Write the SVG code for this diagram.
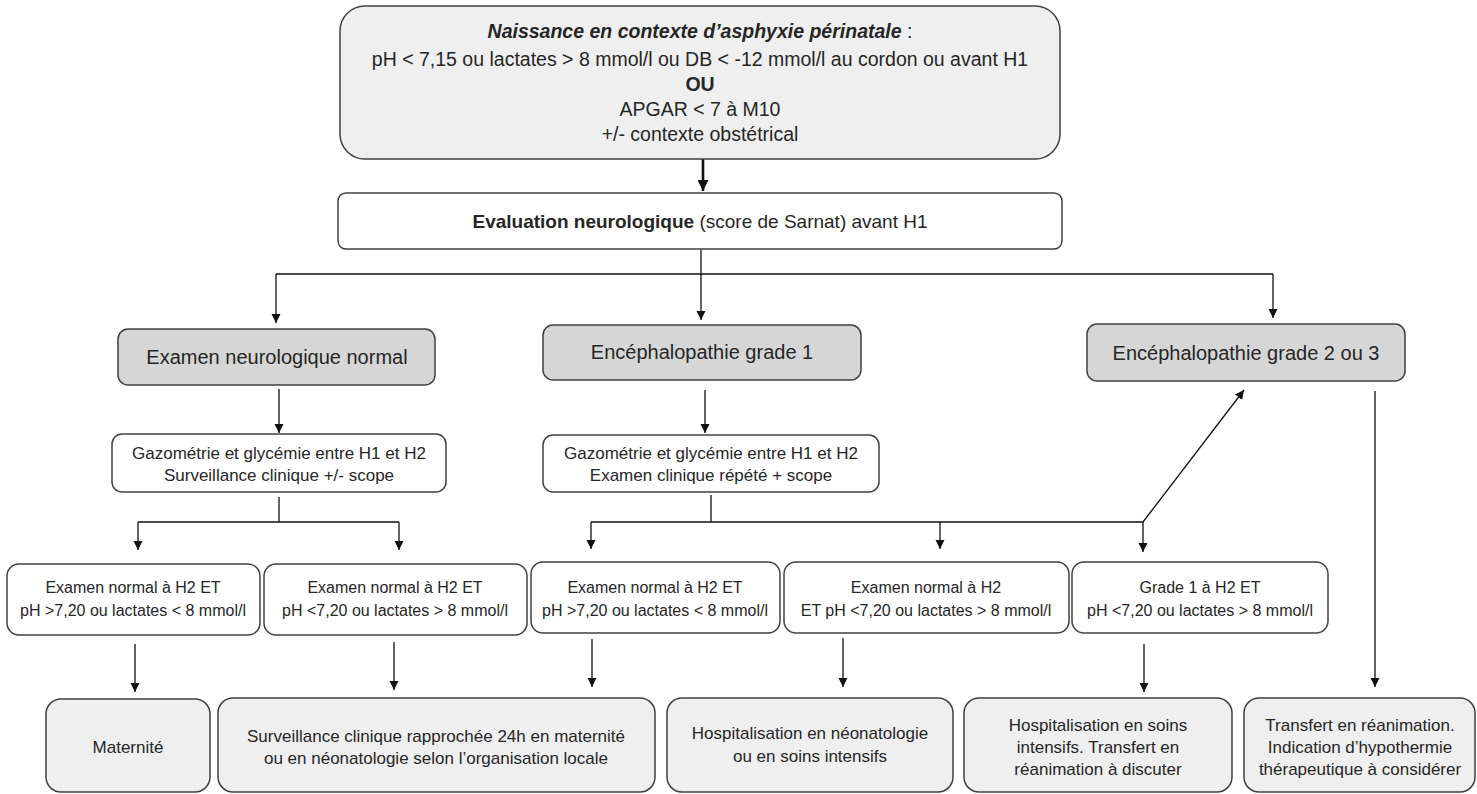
<svg xmlns="http://www.w3.org/2000/svg" width="1477" height="794" viewBox="0 0 1477 794">
<style>
.box{stroke:#404040;stroke-width:1.5}
.dark{fill:#d6d6d6}
.light{fill:#efefef}
.white{fill:#ffffff}
text{font-family:"Liberation Sans",Arial,sans-serif;fill:#262626;text-anchor:middle;dominant-baseline:central}
.t-top{font-size:19.5px}
.t-eval{font-size:19px}
.t-l2{font-size:20px}
.t-gaz{font-size:17px}
.t-l4{font-size:16px}
.t-l5{font-size:17px}
.c{stroke:#111;stroke-width:1.3;fill:none}
.thick{stroke-width:2.6}
</style>
<defs>
<marker id="ah" viewBox="0 0 10 10" refX="10" refY="5" markerWidth="9" markerHeight="10" markerUnits="userSpaceOnUse" orient="auto">
<path d="M0,0 L10,5 L0,10 z" fill="#111"/>
</marker>
<marker id="ahb" viewBox="0 0 10 10" refX="10" refY="5" markerWidth="11" markerHeight="11" markerUnits="userSpaceOnUse" orient="auto">
<path d="M0,0 L10,5 L0,10 z" fill="#111"/>
</marker>
</defs>

<g id="connectors">
<line class="c thick" x1="703" y1="159" x2="703" y2="191" marker-end="url(#ahb)"/>
<line class="c" x1="701" y1="250" x2="701" y2="274"/>
<line class="c" x1="276" y1="274" x2="1273" y2="274"/>
<line class="c" x1="276" y1="274" x2="276" y2="323" marker-end="url(#ah)"/>
<line class="c" x1="701" y1="274" x2="701" y2="320" marker-end="url(#ah)"/>
<line class="c" x1="1273" y1="274" x2="1273" y2="318" marker-end="url(#ah)"/>
<line class="c" x1="279" y1="389" x2="279" y2="433" marker-end="url(#ah)"/>
<line class="c" x1="705" y1="390" x2="705" y2="433" marker-end="url(#ah)"/>
<line class="c" x1="279" y1="497" x2="279" y2="522"/>
<line class="c" x1="138" y1="522" x2="399" y2="522"/>
<line class="c" x1="138" y1="522" x2="138" y2="550" marker-end="url(#ah)"/>
<line class="c" x1="399" y1="522" x2="399" y2="550" marker-end="url(#ah)"/>
<line class="c" x1="711" y1="495" x2="711" y2="522"/>
<line class="c" x1="591" y1="522" x2="1143" y2="522"/>
<line class="c" x1="591" y1="522" x2="591" y2="549" marker-end="url(#ah)"/>
<line class="c" x1="940" y1="522" x2="940" y2="549" marker-end="url(#ah)"/>
<line class="c" x1="1143" y1="522" x2="1143" y2="552" marker-end="url(#ah)"/>
<line class="c" x1="1143" y1="522" x2="1244" y2="390" marker-end="url(#ah)"/>
<line class="c" x1="1375" y1="391" x2="1375" y2="687" marker-end="url(#ah)"/>
<line class="c" x1="135" y1="644" x2="135" y2="692" marker-end="url(#ah)"/>
<line class="c" x1="394" y1="642" x2="394" y2="690" marker-end="url(#ah)"/>
<line class="c" x1="592" y1="639" x2="592" y2="687" marker-end="url(#ah)"/>
<line class="c" x1="843" y1="638" x2="843" y2="687" marker-end="url(#ah)"/>
<line class="c" x1="1144" y1="644" x2="1144" y2="692" marker-end="url(#ah)"/>
</g>

<g id="n-naissance">
<rect class="box light" x="340" y="6" width="720" height="153" rx="25"/>
<text class="t-top" x="700" y="31"><tspan font-weight="bold" font-style="italic">Naissance en contexte d’asphyxie périnatale</tspan> :</text>
<text class="t-top" x="700" y="59">pH &lt; 7,15 ou lactates &gt; 8 mmol/l ou DB &lt; -12 mmol/l au cordon ou avant H1</text>
<text class="t-top" x="700" y="84" font-weight="bold">OU</text>
<text class="t-top" x="700" y="109">APGAR &lt; 7 à M10</text>
<text class="t-top" x="700" y="134">+/- contexte obstétrical</text>
</g>

<g id="n-evaluation">
<rect class="box white" x="338" y="193" width="724" height="56" rx="8"/>
<text class="t-eval" x="700" y="221"><tspan font-weight="bold">Evaluation neurologique</tspan> (score de Sarnat) avant H1</text>
</g>

<g id="n-normal">
<rect class="box dark" x="118" y="329" width="317" height="56" rx="10"/>
<text class="t-l2" x="277" y="357">Examen neurologique normal</text>
</g>
<g id="n-grade1">
<rect class="box dark" x="543" y="325" width="318" height="55" rx="10"/>
<text class="t-l2" x="702" y="352">Encéphalopathie grade 1</text>
</g>
<g id="n-grade23">
<rect class="box dark" x="1087" y="324" width="318" height="57" rx="10"/>
<text class="t-l2" x="1246" y="353">Encéphalopathie grade 2 ou 3</text>
</g>

<g id="n-gazo1">
<rect class="box white" x="112" y="434" width="334" height="58" rx="10"/>
<text class="t-gaz" x="279" y="453">Gazométrie et glycémie entre H1 et H2</text>
<text class="t-gaz" x="279" y="475">Surveillance clinique +/- scope</text>
</g>
<g id="n-gazo2">
<rect class="box white" x="543" y="435" width="336" height="57" rx="10"/>
<text class="t-gaz" x="711" y="453">Gazométrie et glycémie entre H1 et H2</text>
<text class="t-gaz" x="711" y="475">Examen clinique répété + scope</text>
</g>

<g id="n-b1">
<rect class="box white" x="7" y="564" width="253" height="71" rx="12"/>
<text class="t-l4" x="133" y="587">Examen normal à H2 ET</text>
<text class="t-l4" x="133" y="610">pH &gt;7,20 ou lactates &lt; 8 mmol/l</text>
</g>
<g id="n-b2">
<rect class="box white" x="264" y="564" width="263" height="71" rx="12"/>
<text class="t-l4" x="395" y="587">Examen normal à H2 ET</text>
<text class="t-l4" x="395" y="610">pH &lt;7,20 ou lactates &gt; 8 mmol/l</text>
</g>
<g id="n-b3">
<rect class="box white" x="531" y="562" width="249" height="71" rx="12"/>
<text class="t-l4" x="655" y="587">Examen normal à H2 ET</text>
<text class="t-l4" x="655" y="610">pH &gt;7,20 ou lactates &lt; 8 mmol/l</text>
</g>
<g id="n-b4">
<rect class="box white" x="784" y="562" width="285" height="71" rx="12"/>
<text class="t-l4" x="926" y="587">Examen normal à H2</text>
<text class="t-l4" x="926" y="610">ET pH &lt;7,20 ou lactates &gt; 8 mmol/l</text>
</g>
<g id="n-b5">
<rect class="box white" x="1072" y="562" width="256" height="71" rx="12"/>
<text class="t-l4" x="1200" y="587">Grade 1 à H2 ET</text>
<text class="t-l4" x="1200" y="610">pH &lt;7,20 ou lactates &gt; 8 mmol/l</text>
</g>

<g id="n-maternite">
<rect class="box light" x="46" y="699" width="164" height="93" rx="15"/>
<text class="t-l5" x="128" y="747">Maternité</text>
</g>
<g id="n-surveillance">
<rect class="box light" x="218" y="698" width="437" height="94" rx="15"/>
<text class="t-l5" x="436" y="736">Surveillance clinique rapprochée 24h en maternité</text>
<text class="t-l5" x="436" y="758">ou en néonatologie selon l’organisation locale</text>
</g>
<g id="n-hosp-neo">
<rect class="box light" x="667" y="698" width="286" height="94" rx="15"/>
<text class="t-l5" x="810" y="733">Hospitalisation en néonatologie</text>
<text class="t-l5" x="810" y="756">ou en soins intensifs</text>
</g>
<g id="n-hosp-si">
<rect class="box light" x="964" y="698" width="268" height="94" rx="15"/>
<text class="t-l5" x="1098" y="725">Hospitalisation en soins</text>
<text class="t-l5" x="1098" y="747">intensifs. Transfert en</text>
<text class="t-l5" x="1098" y="769">réanimation à discuter</text>
</g>
<g id="n-transfert">
<rect class="box light" x="1244" y="698" width="231" height="94" rx="15"/>
<text class="t-l5" x="1360" y="725">Transfert en réanimation.</text>
<text class="t-l5" x="1360" y="747">Indication d’hypothermie</text>
<text class="t-l5" x="1360" y="769">thérapeutique à considérer</text>
</g>
</svg>
